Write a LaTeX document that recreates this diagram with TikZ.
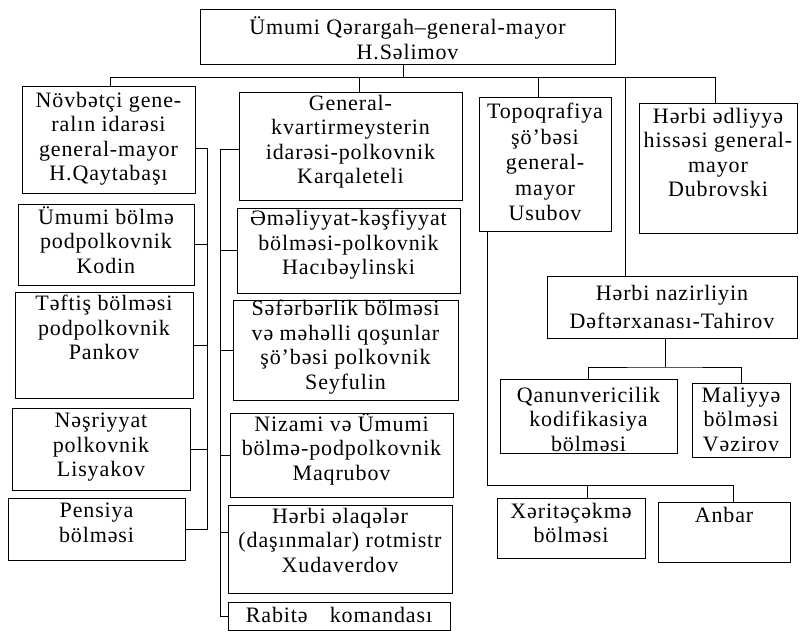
\documentclass[tikz,border=0pt]{standalone}
\usepackage{fontspec}
\setmainfont{Liberation Serif}[LetterSpace=4]
\newcommand\mkbox[5]{\node[box, minimum width={(#4-#2)*1pt}, minimum height={(#5-#3)*1pt}] (#1) at (#2,#3) {};}
\newcommand\mktext[3]{\node[txt] at ([yshift=-#2pt]#1.north) {#3};}
\begin{document}
\begin{tikzpicture}[x=1pt,y=-1pt,
  box/.style={draw, line width=0.8pt, inner sep=0pt, outer sep=0pt, anchor=north west},
  txt/.style={font=\fontsize{22}{24.5}\selectfont, align=center, inner sep=0pt, anchor=north},
  conn/.style={line width=0.8pt}]
\useasboundingbox (0,0) rectangle (800,643);
% boxes
\mkbox{top}{200}{9}{615}{64}
\mkbox{nov}{22}{86}{195}{193}
\mkbox{gen}{239}{92}{462}{200}
\mkbox{topo}{479}{97}{611}{231}
\mkbox{adl}{639}{103}{797}{233}
\mkbox{bol}{18}{204}{194}{285}
\mkbox{tef}{15}{292}{193}{398}
\mkbox{nes}{12}{408}{190}{490}
\mkbox{pen}{8}{498}{185}{560}
\mkbox{eme}{237}{208}{460}{293}
\mkbox{sef}{233}{300}{458}{400}
\mkbox{niz}{230}{413}{453}{497}
\mkbox{ela}{228}{505}{452}{593}
\mkbox{rab}{228}{602}{450}{630}
\mkbox{naz}{547}{276}{797}{338}
\mkbox{qan}{500}{379}{677}{453}
\mkbox{mal}{692}{383}{790}{457}
\mkbox{xer}{497}{498}{645}{558}
\mkbox{anb}{658}{502}{790}{562}
% texts
\node[txt, font=\fontsize{22}{25}\selectfont] at ([yshift=-7pt]top.north) {Ümumi Qərargah–general-mayor\\H.Səlimov};
\mktext{nov}{6}{Növbətçi gene-\\ralın idarəsi\\general-mayor\\H.Qaytabaşı}
\mktext{gen}{3}{General-\\kvartirmeysterin\\idarəsi-polkovnik\\Karqaleteli}
\node[txt, font=\fontsize{22}{25.5}\selectfont] at ([yshift=-6pt]topo.north) {Topoqrafiya\\şö'bəsi\\general-\\mayor\\Usubov};
\mktext{adl}{5}{Hərbi ədliyyə\\hissəsi general-\\mayor\\Dubrovski}
\mktext{bol}{2}{Ümumi bölmə\\podpolkovnik\\Kodin}
\mktext{tef}{3}{Təftiş bölməsi\\podpolkovnik\\Pankov}
\mktext{nes}{5}{Nəşriyyat\\polkovnik\\Lisyakov}
\mktext{pen}{5}{Pensiya\\bölməsi}
\mktext{eme}{2}{Əməliyyat-kəşfiyyat\\bölməsi-polkovnik\\Hacıbəylinski}
\mktext{sef}{0}{Səfərbərlik bölməsi\\və məhəlli qoşunlar\\şö'bəsi polkovnik\\Seyfulin}
\mktext{niz}{0}{Nizami və Ümumi\\bölmə-podpolkovnik\\Maqrubov}
\mktext{ela}{3}{Hərbi əlaqələr\\(daşınmalar) rotmistr\\Xudaverdov}
\mktext{rab}{5}{Rabitə\quad komandası}
\node[txt, font=\fontsize{22}{28}\selectfont] at ([yshift=-9pt]naz.north) {Hərbi nazirliyin\\Dəftərxanası-Tahirov};
\mktext{qan}{8}{Qanunvericilik\\kodifikasiya\\bölməsi}
\mktext{mal}{4}{Maliyyə\\bölməsi\\Vəzirov}
\mktext{xer}{5}{Xəritəçəkmə\\bölməsi}
\mktext{anb}{5}{Anbar}
% main bus
\coordinate (busL) at (110,77);
\coordinate (busR) at (715,77);
\draw[conn] (busL |- nov.north) -- (busL) -- (busR) -- (busR |- adl.north);
\draw[conn] ([xshift=-4pt]top.south) -- ([xshift=-4pt]top.south |- busL);
\draw[conn] ([xshift=9pt]gen.north) -- ([xshift=9pt]gen.north |- busL);
\draw[conn] ([xshift=-7pt]topo.north) -- ([xshift=-7pt]topo.north |- busL);
\coordinate (nazdrop) at (625,77);
\draw[conn] (nazdrop) -- (nazdrop |- naz.north);
% left bus
\coordinate (lbus) at (207,148);
\draw[conn] (nov.east |- lbus) -- (lbus) -- (lbus |- pen.east) -- (pen.east);
\foreach \n in {bol,tef,nes} \draw[conn] (\n.east) -- (\n.east -| lbus);
% middle bus
\coordinate (mbus) at (220,149);
\draw[conn] (gen.west |- mbus) -- (mbus) -- (mbus |- rab.west) -- (rab.west);
\foreach \n in {eme,sef,niz} \draw[conn] (\n.west) -- (\n.west -| mbus);
\coordinate (elat) at (220,532);
\draw[conn] (elat) -- (elat -| ela.west);
% Topoqrafiya branch
\coordinate (ubus) at (487,485);
\coordinate (ubusR) at (733,485);
\draw[conn] (topo.south -| ubus) -- (ubus) -- (ubusR) -- (ubusR |- anb.north);
\coordinate (xdrop) at (587,485);
\draw[conn] (xdrop) -- (xdrop |- xer.north);
% Hərbi nazirliyin branch
\coordinate (nb) at (665,367);
\draw[conn] (nb |- naz.south) -- (nb);
\draw[conn] (qan.north) |- (nb) -| (mal.north);
\end{tikzpicture}
\end{document}
